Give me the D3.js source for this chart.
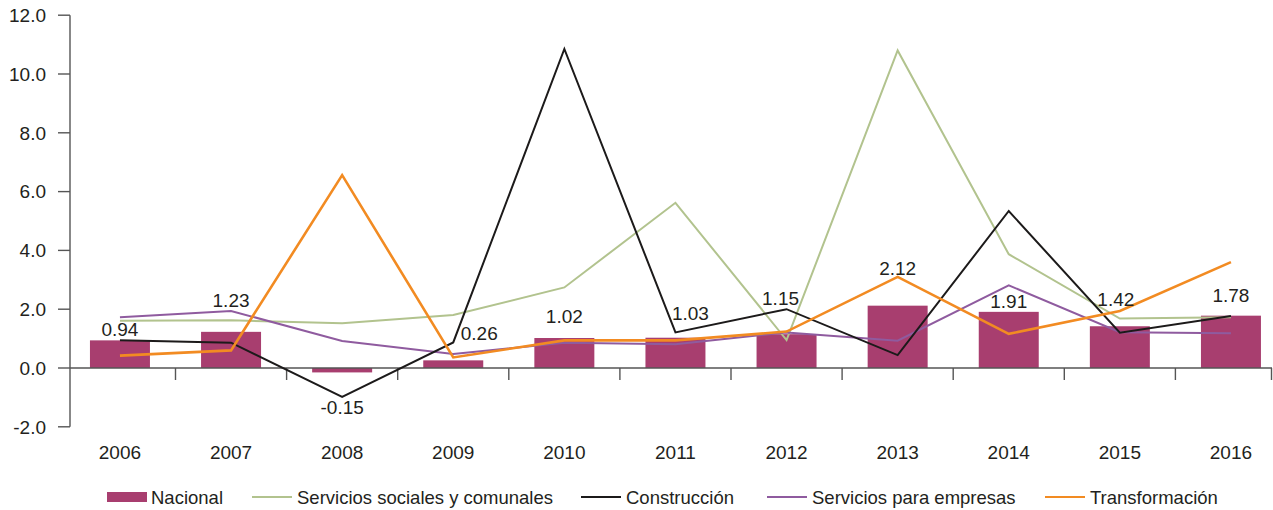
<!DOCTYPE html>
<html>
<head>
<meta charset="utf-8">
<script src="https://cdn.jsdelivr.net/npm/d3@7"></script>
<style>
  html, body { margin: 0; padding: 0; background: #fff; }
  svg { display: block; font-family: "Liberation Sans", Arial, Helvetica, sans-serif; }
</style>
</head>
<body>
<svg id="chart" width="1273" height="510"></svg>
<script>
// Years on the x axis
const years = ["2006", "2007", "2008", "2009", "2010", "2011", "2012", "2013", "2014", "2015", "2016"];

// National growth (bars)
const nacional = [0.94, 1.23, -0.15, 0.26, 1.02, 1.03, 1.15, 2.12, 1.91, 1.42, 1.78];

// Sector series (lines)
const serviciosSociales = [1.61, 1.62, 1.52, 1.80, 2.74, 5.62, 0.95, 10.80, 3.87, 1.68, 1.73];
const construccion      = [0.94, 0.86, -0.98, 0.87, 10.85, 1.21, 2.00, 0.44, 5.34, 1.20, 1.77];
const serviciosEmpresas = [1.73, 1.94, 0.92, 0.48, 0.86, 0.81, 1.21, 0.93, 2.81, 1.22, 1.18];
const transformacion    = [0.42, 0.60, 6.56, 0.36, 0.94, 0.94, 1.24, 3.10, 1.16, 1.94, 3.60];

// Y axis tick values
const yTicks = [-2, 0, 2, 4, 6, 8, 10, 12];

const svg = d3.select("#chart");
const W = 1273;

const x = d3.scaleBand().domain(years).range([64.4, 1286.5]).paddingInner(0.46).paddingOuter(0.23);
const y = d3.scaleLinear().domain([-2, 12]).range([426.8, 15.2]);
const cx = d => x(d) + x.bandwidth() / 2;

// plain hyphen for negative numbers
const fmt = f => v => d3.format(f)(v).replace("\u2212", "-");
const fmt1 = fmt(".1f");
const fmt2 = fmt(".2f");

const axisColor = "#555";
const textColor = "#231f20";

// Y axis
const yAxisX = 70;
svg.append("line")
  .attr("x1", yAxisX).attr("x2", yAxisX)
  .attr("y1", y(12)).attr("y2", y(-2))
  .attr("stroke", axisColor).attr("stroke-width", 1.4);

const yt = svg.append("g").selectAll("g").data(yTicks).join("g");
yt.append("line")
  .attr("x1", 58).attr("x2", yAxisX)
  .attr("y1", d => y(d)).attr("y2", d => y(d))
  .attr("stroke", axisColor).attr("stroke-width", 1.4);
yt.append("text")
  .attr("x", 46).attr("y", d => y(d))
  .attr("dy", "0.36em")
  .attr("text-anchor", "end")
  .attr("font-size", 19).attr("fill", textColor)
  .text(d => fmt1(d));

// Bars
const barColor = "#a83e6f";
svg.append("g").selectAll("rect").data(years).join("rect")
  .attr("x", d => x(d))
  .attr("width", x.bandwidth())
  .attr("y", (d, i) => Math.min(y(nacional[i]), y(0)))
  .attr("height", (d, i) => Math.abs(y(nacional[i]) - y(0)))
  .attr("fill", barColor);

// X axis (baseline at zero)
svg.append("line")
  .attr("x1", yAxisX).attr("x2", W - 1)
  .attr("y1", y(0)).attr("y2", y(0))
  .attr("stroke", axisColor).attr("stroke-width", 1.4);

const step = x.step();
const boundaries = years.slice(1).map(d => x(d) - (step - x.bandwidth()) / 2);
boundaries.push(W - 1.5);
svg.append("g").selectAll("line").data(boundaries).join("line")
  .attr("x1", d => d).attr("x2", d => d)
  .attr("y1", y(0)).attr("y2", y(0) + 12)
  .attr("stroke", axisColor).attr("stroke-width", 1.4);

svg.append("g").selectAll("text").data(years).join("text")
  .attr("x", d => cx(d))
  .attr("y", 458.5)
  .attr("text-anchor", "middle")
  .attr("font-size", 19).attr("fill", textColor)
  .text(d => d);

// Lines
const series = [
  { name: "Servicios sociales y comunales", values: serviciosSociales, color: "#b2c38e", width: 2 },
  { name: "Construcción",                  values: construccion,      color: "#1c1a1a", width: 2 },
  { name: "Servicios para empresas",       values: serviciosEmpresas, color: "#8f5b9f", width: 2 },
  { name: "Transformación",                values: transformacion,    color: "#f28b22", width: 2.6 }
];

const line = d3.line()
  .x((v, i) => cx(years[i]))
  .y(v => y(v));

// draw order: green, purple, black, orange on top
[0, 2, 1, 3].forEach(k => {
  const s = series[k];
  svg.append("path")
    .datum(s.values)
    .attr("d", line)
    .attr("fill", "none")
    .attr("stroke", s.color)
    .attr("stroke-width", s.width)
    .attr("stroke-linejoin", "miter");
});

// Value labels for the national bars, nudged to stay clear of the lines
const labelNudge = [
  [0, -4], [0, -25], [0, 42], [26, -20], [0, -15], [15, -18],
  [-6, -29], [0, -31], [0, -3.5], [-4, -20], [0, -14]
];
svg.append("g").selectAll("text").data(years).join("text")
  .attr("x", (d, i) => cx(d) + labelNudge[i][0])
  .attr("y", (d, i) => y(nacional[i]) + labelNudge[i][1])
  .attr("text-anchor", "middle")
  .attr("font-size", 19).attr("fill", textColor)
  .text((d, i) => fmt2(nacional[i]));

// Legend
const legendY = 497;
const lg = svg.append("g");
lg.append("rect")
  .attr("x", 107).attr("y", legendY - 5).attr("width", 40).attr("height", 10)
  .attr("fill", barColor);
lg.append("text")
  .attr("x", 151).attr("y", legendY).attr("dy", "0.36em")
  .attr("font-size", 18.5).attr("fill", textColor)
  .text("Nacional");

const legendX = [252, 581, 767, 1045];
series.forEach((s, i) => {
  lg.append("line")
    .attr("x1", legendX[i]).attr("x2", legendX[i] + 40)
    .attr("y1", legendY).attr("y2", legendY)
    .attr("stroke", s.color).attr("stroke-width", 2);
  lg.append("text")
    .attr("x", legendX[i] + 45).attr("y", legendY).attr("dy", "0.36em")
    .attr("font-size", 18.5).attr("fill", textColor)
    .text(s.name);
});
</script>
</body>
</html>
